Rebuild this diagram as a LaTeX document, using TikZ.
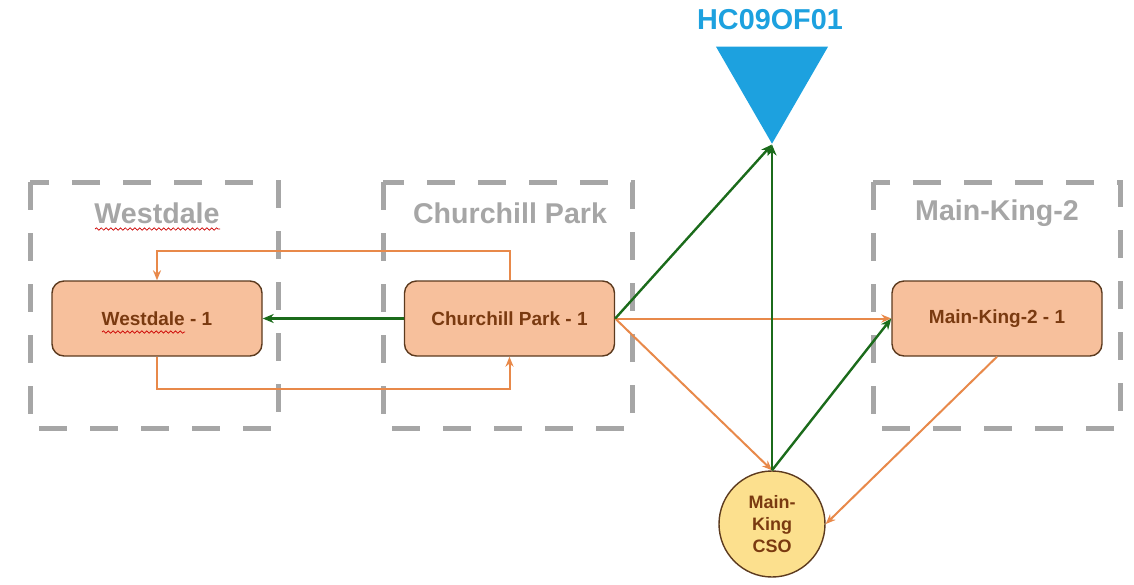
\documentclass[tikz,border=0pt]{standalone}
\usepackage{fontspec}
\setmainfont{Liberation Sans}
\usepackage{tikz}
\usetikzlibrary{shapes.geometric, arrows.meta, decorations.pathmorphing}
\usepackage{xcolor}
\definecolor{zonegray}{HTML}{A6A6A6}
\definecolor{peach}{HTML}{F7C09C}
\definecolor{brownline}{HTML}{5C3A1E}
\definecolor{browntext}{HTML}{7A3A10}
\definecolor{flowor}{HTML}{E8894A}
\definecolor{ctrlgreen}{HTML}{1B6B1B}
\definecolor{csofill}{HTML}{FCE08E}
\definecolor{outfall}{HTML}{1DA1DF}

\begin{document}
\begin{tikzpicture}[x=0.5pt, y=-0.5pt,
    zone/.style={draw=zonegray, line width=2.5pt, dash pattern=on 14pt off 11.5pt},
    ztitle/.style={text=zonegray, font=\bfseries\fontsize{14.3}{16}\selectfont},
    site/.style={draw=brownline, fill=peach, rounded corners=6pt, line width=0.7pt,
        minimum width=105pt, minimum height=37.5pt, text=browntext,
        font=\bfseries\fontsize{9.5}{11}\selectfont},
    flow/.style={draw=flowor, line width=1pt, -{Stealth[length=5pt,width=4pt]}},
    ctrl/.style={draw=ctrlgreen, line width=1.2pt, -{Stealth[length=5.5pt,width=4.5pt]}},
    squig/.style={draw=red!80!black, line width=0.35pt, decorate,
        decoration={snake, amplitude=0.6pt, segment length=2.4pt}}]
    \useasboundingbox (0,0) rectangle (1134,584);
    % Westdale
    \draw[zone] (30,182) rectangle (278,428);
    \node[ztitle] (wdtitle) at (157,213) {Westdale};
    \node[site] (wd) at (157,318.5) {Westdale - 1};
    \draw[squig] (95,229) -- (220,229);
    \draw[squig] (102,332) -- (185,332);
    % Churchill Park
    \draw[zone] (383,182) rectangle (632,428);
    \node[ztitle] (cptitle) at (510,213) {Churchill Park};
    \node[site] (cp) at (509.5,318.5) {Churchill Park - 1};
    % Main-King-2
    \draw[zone] (873,182) rectangle (1120,428);
    \node[ztitle] (mktitle) at (997,213) {Main-King-2};
    \node[site] (mk) at (997,318.5) {Main-King-2 - 1};
    % outfall
    \node[regular polygon, regular polygon sides=3, shape border rotate=180,
        fill=outfall, minimum size=64.7pt, inner sep=0pt] (of) at (772,79) {};
    \node[text=outfall, font=\bfseries\fontsize{14.4}{16}\selectfont] (oflab) at (770,20) {HC09OF01};
    % CSO
    \node[circle, draw=brownline, fill=csofill, line width=0.7pt, minimum size=53pt,
        inner sep=0pt, align=center, text=browntext,
        font=\bfseries\fontsize{9}{11}\selectfont] (cso) at (772,524) {Main-\\King\\CSO};
    % flows
    \draw[flow] (cp.north) -- ++(0,-29) -| (wd.north);
    \draw[flow] (wd.south) -- ++(0,32) -| (cp.south);
    \draw[flow] (cp.east) -- (mk.west);
    \draw[flow] (cp.east) -- (cso.north);
    \draw[flow] (mk.south) -- (cso.east);
    % controls
    \draw[ctrl] (cp.west) -- (wd.east);
    \draw[ctrl] (cp.east) -- (of.corner 1);
    \draw[ctrl] (cso.north) -- (of.corner 1);
    \draw[ctrl] (cso.north) -- (mk.west);
\end{tikzpicture}
\end{document}
